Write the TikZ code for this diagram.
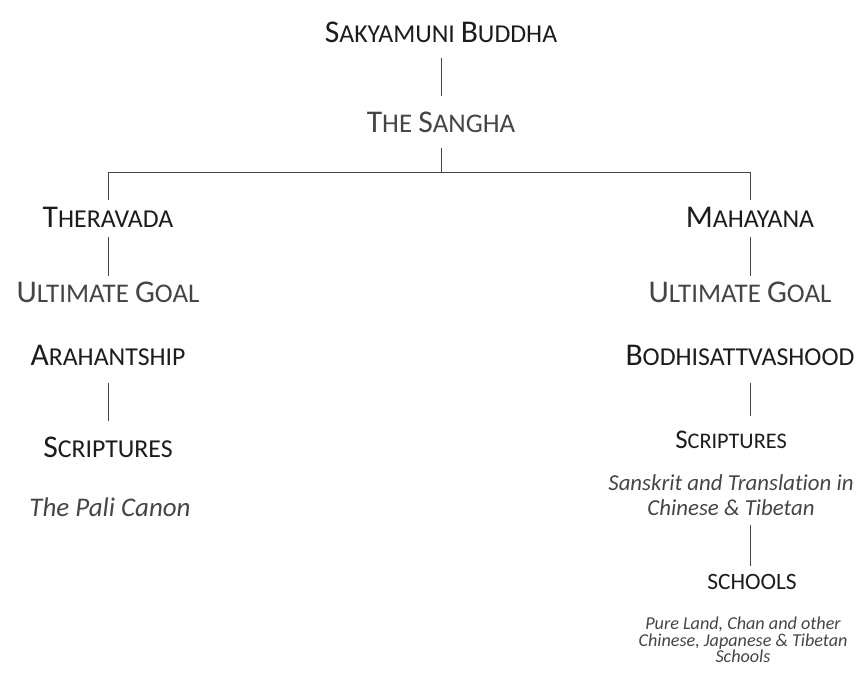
\documentclass[tikz,border=0pt]{standalone}
\usepackage{fontspec}
\setmainfont{Carlito}[Ligatures=NoCommon]
\definecolor{ink}{HTML}{1C1C1C}
\definecolor{dim}{HTML}{454545}
\newcommand\scw[2]{{\fontsize{\capsz}{\capsz}\selectfont #1}#2}
\newcommand\scsize[2]{\def\capsz{#1}\fontsize{#2}{#2}\selectfont}
\begin{document}
\begin{tikzpicture}[x=0.03cm,y=-0.03cm,
    lbl/.style={inner sep=0pt,text depth=0pt,text=ink},
    big/.style={lbl,font=\scsize{27pt}{22pt}},
    mid/.style={lbl,font=\scsize{23pt}{19pt}},
    goal/.style={lbl,text=dim,font=\scsize{27pt}{23pt}},
    note/.style={inner sep=0pt,text=dim,align=center,font=\itshape\fontsize{19.5pt}{21.3pt}\selectfont},
    small/.style={note,font=\itshape\fontsize{15.5pt}{14.2pt}\selectfont},
    link/.style={draw=dim,line width=0.8pt}]
  \useasboundingbox (0,0) rectangle (866,674);

  \node [big] (buddha) at (441,32) {\scw{S}{AKYAMUNI} \scw{B}{UDDHA}};
  \node [goal] (sangha) at (441,122) {\scw{T}{HE} \scw{S}{ANGHA}};
  \coordinate (fork) at (441,172);

  \node [big] (thera) at (108,217) {\scw{T}{HERAVADA}};
  \node [goal] (tgoal) at (108,292) {\scw{U}{LTIMATE} \scw{G}{OAL}};
  \node [big] (arahant) at (108,355) {\scw{A}{RAHANTSHIP}};
  \node [big] (tscript) at (108,447) {\scw{S}{CRIPTURES}};
  \node [note,font=\itshape\fontsize{23pt}{23pt}\selectfont] (pali) at (110,507) {The Pali Canon};

  \node [big] (maha) at (750,217) {\scw{M}{AHAYANA}};
  \node [goal] (mgoal) at (740,292) {\scw{U}{LTIMATE} \scw{G}{OAL}};
  \node [big] (bodhi) at (740,355) {\scw{B}{ODHISATTVASHOOD}};
  \node [mid] (mscript) at (731,440) {\scw{S}{CRIPTURES}};
  \node [note] (sanskrit) at (731,495) {Sanskrit and Translation in\\Chinese \& Tibetan};
  \node [lbl,font=\fontsize{20pt}{20pt}\selectfont] (schools) at (752,582) {SCHOOLS};
  \node [small] (pure) at (743,640) {Pure Land, Chan and other\\Chinese, Japanese \& Tibetan\\Schools};

  \draw [link,shorten <=13pt,shorten >=13pt] (buddha) -- (sangha);
  \draw [link,shorten <=13pt] (sangha) -- (fork);
  \draw [link,shorten >=6pt] (fork) -| (thera);
  \draw [link,shorten >=6pt] (fork) -| (maha);
  \draw [link,shorten <=8pt,shorten >=5pt] (thera) -- (tgoal);
  \draw [link,shorten <=8pt,shorten >=5pt] (maha) -- (maha |- mgoal.north);
  \draw [link,shorten <=15pt,shorten >=13pt] (arahant) -- (tscript);
  \draw [link,shorten <=15pt,shorten >=13pt] (maha |- bodhi.south) -- (maha |- mscript.north);
  \draw [link,shorten <=8pt,shorten >=7pt] (sanskrit.south -| maha) -- (schools.north -| maha);
\end{tikzpicture}
\end{document}
